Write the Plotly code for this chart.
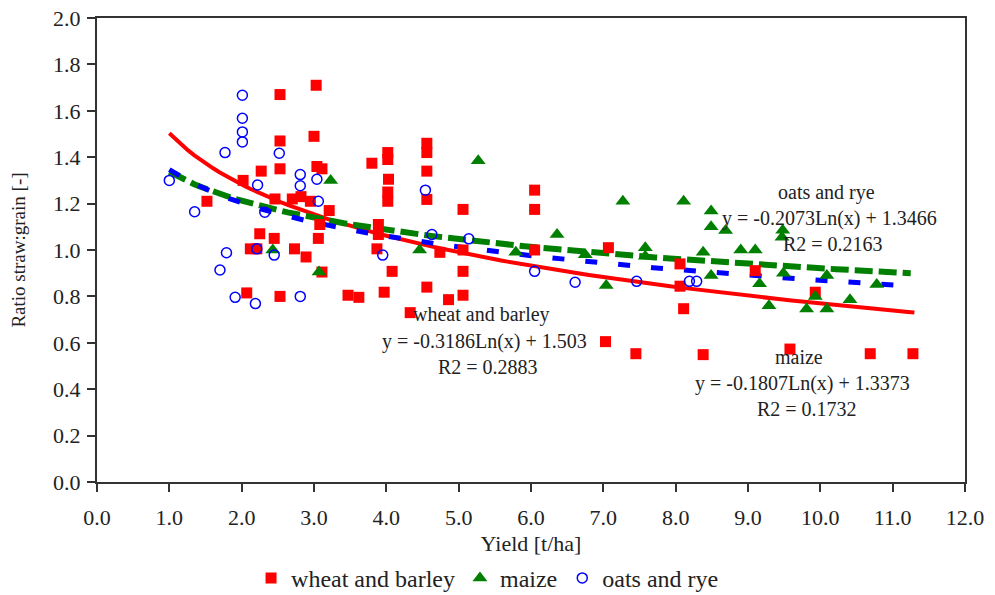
import numpy as np
import plotly.graph_objects as go

# Straw:grain ratio against grain yield, per crop group
wheat_x = [1.52, 2.02, 2.27, 2.53, 2.53, 2.53, 3.03, 3.00, 3.04, 3.11, 2.46, 2.70, 2.82, 2.95,
           3.21, 3.08, 2.25, 2.45, 3.06, 2.12, 2.21, 2.73, 2.89, 3.11, 2.07, 2.53, 3.47, 3.62,
           3.80, 4.02, 4.02, 4.03, 4.02, 4.02, 3.89, 3.89, 3.87, 4.08, 3.97, 4.56, 4.56, 4.56,
           4.56, 4.74, 4.56, 4.33, 4.86, 5.06, 5.06, 5.06, 5.06, 6.05, 6.05, 6.05, 7.07, 7.03,
           7.45, 8.06, 8.06, 8.11, 8.38, 9.10, 9.93, 9.58, 10.69, 11.28]
wheat_y = [1.21, 1.30, 1.34, 1.67, 1.47, 1.35, 1.71, 1.49, 1.36, 1.35, 1.22, 1.22, 1.23, 1.21,
           1.17, 1.11, 1.07, 1.05, 1.05, 1.005, 1.005, 1.005, 0.97, 0.905, 0.815, 0.80, 0.805, 0.796,
           1.374, 1.42, 1.39, 1.305, 1.25, 1.21, 1.11, 1.067, 1.005, 0.908, 0.818, 1.46, 1.42, 1.34,
           1.218, 0.99, 0.84, 0.73, 0.786, 1.175, 1.0, 0.908, 0.805, 1.258, 1.175, 1.0, 1.01, 0.605,
           0.553, 0.94, 0.844, 0.747, 0.549, 0.911, 0.818, 0.573, 0.553, 0.553]

maize_x = [2.43, 3.07, 3.23, 4.46, 5.27, 5.79, 6.36, 6.75, 7.04, 7.27, 7.58, 7.58, 8.11, 8.38,
           8.49, 8.49, 8.49, 8.69, 8.90, 9.10, 9.16, 9.29, 9.48, 9.47, 9.49, 9.81, 9.93, 10.09,
           10.09, 10.41, 10.78]
maize_y = [1.00, 0.905, 1.30, 1.00, 1.385, 0.99, 1.067, 0.98, 0.847, 1.21, 1.01, 0.973, 1.21, 0.99,
           1.168, 1.10, 0.89, 1.084, 1.00, 1.00, 0.854, 0.76, 1.085, 1.055, 0.90, 0.746, 0.80, 0.89,
           0.746, 0.786, 0.851]

oats_x = [1.00, 1.35, 1.77, 2.01, 2.01, 2.01, 2.01, 2.52, 2.22, 2.32, 2.81, 2.81, 3.04, 3.06,
          1.79, 2.21, 2.45, 1.70, 1.91, 2.19, 2.81, 3.95, 4.54, 4.63, 5.14, 6.05, 6.61, 7.46,
          8.19, 8.29]
oats_y = [1.30, 1.165, 1.42, 1.667, 1.568, 1.509, 1.466, 1.417, 1.28, 1.163, 1.325, 1.277, 1.305, 1.21,
          0.988, 1.005, 0.978, 0.914, 0.796, 0.769, 0.80, 0.978, 1.258, 1.067, 1.048, 0.908, 0.861, 0.865,
          0.865, 0.865]

# Logarithmic trend lines: y = a*ln(x) + b
wheat_fit = (-0.3186, 1.503, 0.2883)
maize_fit = (-0.1807, 1.3373, 0.1732)
oats_fit = (-0.2073, 1.3466, 0.2163)

x_ticks = [0, 1, 2, 3, 4, 5, 6, 7, 8, 9, 10, 11, 12]
y_ticks = [0.0, 0.2, 0.4, 0.6, 0.8, 1.0, 1.2, 1.4, 1.6, 1.8, 2.0]

RED = "#ff0000"
GREEN = "#007f00"
BLUE = "#0000ff"
TEXT = "#222222"
SERIF = "Liberation Serif, Times New Roman, serif"


def trend(fit, x0, x1):
    xs = np.linspace(x0, x1, 120)
    return xs, fit[0] * np.log(xs) + fit[1]


fig = go.Figure()

tx, ty = trend(wheat_fit, 1.0, 11.3)
fig.add_trace(go.Scatter(x=tx, y=ty, mode="lines", showlegend=False, hoverinfo="skip",
                         line=dict(color=RED, width=4)))
tx, ty = trend(maize_fit, 1.0, 11.25)
fig.add_trace(go.Scatter(x=tx, y=ty, mode="lines", showlegend=False, hoverinfo="skip",
                         line=dict(color=GREEN, width=6, dash="18px,6px")))
tx, ty = trend(oats_fit, 1.0, 11.2)
fig.add_trace(go.Scatter(x=tx, y=ty, mode="lines", showlegend=False, hoverinfo="skip",
                         line=dict(color=BLUE, width=5, dash="12px,21px")))

fig.add_trace(go.Scatter(x=wheat_x, y=wheat_y, mode="markers", name="wheat and barley",
                         marker=dict(symbol="square", size=11, color=RED)))
fig.add_trace(go.Scatter(x=maize_x, y=maize_y, mode="markers", name="maize",
                         marker=dict(symbol="triangle-up", size=13, color=GREEN)))
fig.add_trace(go.Scatter(x=oats_x, y=oats_y, mode="markers", name="oats and rye",
                         marker=dict(symbol="circle-open", size=10, color=BLUE,
                                     line=dict(width=1.5, color=BLUE))))


def fit_label(name, fit, x, y):
    lines = [name, f"y = {fit[0]}Ln(x) + {fit[1]}", f"R2 = {fit[2]}"]
    for i, (txt, dx) in enumerate(zip(lines, [0, 0.05, 0.1])):
        fig.add_annotation(x=x + dx, y=y - i * 0.113, xref="x", yref="y", text=txt,
                           showarrow=False, xanchor="center", yanchor="middle",
                           font=dict(family=SERIF, size=20, color=TEXT))


fit_label("oats and rye", oats_fit, 10.08, 1.25)
fit_label("wheat and barley", wheat_fit, 5.31, 0.72)
fit_label("maize", maize_fit, 9.71, 0.539)

axis_common = dict(
    showline=True, linewidth=2, linecolor="#333333", mirror=True,
    ticks="outside", ticklen=8, tickwidth=2, tickcolor="#333333",
    showgrid=False, zeroline=False, automargin=False,
    tickfont=dict(family=SERIF, size=22, color=TEXT),
    tickformat=".1f",
)

fig.update_xaxes(range=[0, 12], tickvals=x_ticks, ticklabelstandoff=7,
                 title=dict(text="Yield [t/ha]", font=dict(family=SERIF, size=22, color=TEXT),
                            standoff=24),
                 **axis_common)
fig.update_yaxes(range=[0, 2], tickvals=y_ticks, ticklabelstandoff=2,
                 title=dict(text="Ratio straw:grain [-]", font=dict(family=SERIF, size=19, color=TEXT),
                            standoff=22),
                 **axis_common)

fig.update_layout(
    width=995, height=595,
    margin=dict(l=97, r=30, t=18, b=113, autoexpand=False),
    paper_bgcolor="white", plot_bgcolor="white",
    legend=dict(orientation="h", x=0.49, xref="container", xanchor="center",
                y=0.028, yref="container", yanchor="middle",
                font=dict(family=SERIF, size=24, color=TEXT), bgcolor="rgba(0,0,0,0)"),
)

fig.write_html("out.html")
